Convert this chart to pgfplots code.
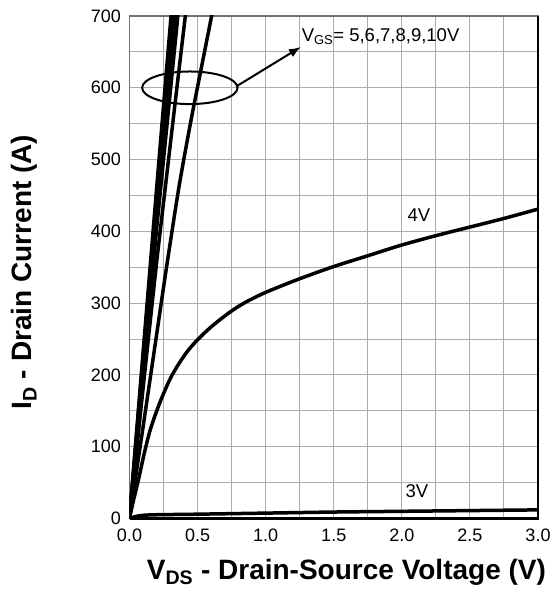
\documentclass[border=0pt]{standalone}
\usepackage{fontspec}
\setmainfont{Liberation Sans}
\usepackage{pgfplots}
\pgfplotsset{compat=1.18}
\usetikzlibrary{arrows.meta}
\begin{document}
\begin{tikzpicture}
\begin{axis}[
  scale only axis,
  width=408.5pt, height=502.5pt,
  xmin=0, xmax=3, ymin=0, ymax=700,
  xtick={0,0.5,1,1.5,2,2.5,3},
  xticklabels={0.0,0.5,1.0,1.5,2.0,2.5,3.0},
  ytick={0,100,200,300,400,500,600,700},
  minor x tick num=1, minor y tick num=1,
  grid=both,
  major grid style={draw=black!32, line width=1pt},
  minor grid style={draw=black!32, line width=1pt},
  major tick length=0pt, minor tick length=0pt,
  axis line style={draw=black!55, line width=1.3pt},
  /pgf/number format/assume math mode=true,
  xticklabel style={font=\fontsize{18}{20}\selectfont, inner sep=0pt, yshift=-10pt},
  yticklabel style={font=\fontsize{18}{20}\selectfont, inner sep=0pt, xshift=-8.5pt},
  xlabel={V\textsubscript{DS} - Drain-Source Voltage (V)},
  ylabel={I\textsubscript{D} - Drain Current (A)},
  xlabel style={at={(axis description cs:0.531,-0.1204)}, anchor=base, inner sep=0pt, font=\bfseries\fontsize{28}{30}\selectfont},
  ylabel style={at={(axis description cs:-0.2394,0.4905)}, anchor=base, inner sep=0pt, font=\bfseries\fontsize{28}{30}\selectfont},
  every axis plot/.append style={black, no marks, line width=3.5pt, line join=round, line cap=round},
]
% 3V
\addplot[smooth] coordinates {(0,0) (0.05,3) (0.15,5) (0.5,6) (1.0,7.5) (1.5,9) (2.0,10) (2.5,11) (3.0,12)};
% 4V
\addplot[smooth] coordinates {(0,0) (0.03,26) (0.061,50) (0.11,92) (0.15,122) (0.2,150) (0.25,174) (0.305,197) (0.367,217) (0.43,234) (0.5,249) (0.6,267) (0.734,287) (0.85,301) (1.0,315) (1.25,334) (1.5,351) (1.75,366) (2.0,381) (2.25,394) (2.5,406) (2.75,418) (3.0,431)};
% 5V
\addplot[smooth] coordinates {(0,0) (0.1,128) (0.172,221) (0.25,322) (0.3,385) (0.367,466) (0.45,553) (0.53,630) (0.603,700) (0.65,745)};
% 6V
\addplot[smooth] coordinates {(0,0) (0.1,182) (0.2,358) (0.269,471) (0.34,587) (0.41,700) (0.45,764)};
% 7V
\addplot[sharp plot] coordinates {(0,0) (0.1,205) (0.2,405) (0.355,700) (0.38,748)};
% 8V
\addplot[sharp plot] coordinates {(0,0) (0.1,215) (0.2,428) (0.335,700) (0.36,750)};
% 9V
\addplot[sharp plot] coordinates {(0,0) (0.1,225) (0.2,448) (0.32,700) (0.345,752)};
% 10V
\addplot[sharp plot] coordinates {(0,0) (0.1,232) (0.2,462) (0.305,700) (0.33,755)};

\node[font=\fontsize{18.5}{20}\selectfont, inner sep=0pt] at (axis cs:2.125,422) {4V};
\node[font=\fontsize{18.5}{20}\selectfont, inner sep=0pt] at (axis cs:2.11,38.7) {3V};
\node[font=\fontsize{18.5}{20}\selectfont, inner sep=0pt, anchor=base west] at (axis cs:1.264,664) {V\textsubscript{GS}= 5,6,7,8,9,10V};
\draw[black, line width=2pt] (axis cs:0.443,600) ellipse [x radius=47.7pt, y radius=16.3pt];
\draw[black, line width=2pt, -{Latex[length=12pt,width=9pt]}] (axis cs:0.794,603) -- (axis cs:1.259,657);
\coordinate (SW) at (rel axis cs:0,0);
\coordinate (NE) at (rel axis cs:1,1);
\coordinate (SE) at (rel axis cs:1,0);
\end{axis}
\draw[black, line width=2.2pt] (SW) -- (SE) -- (NE);
\path (SW) ++(-129.5pt,-73.5pt);
\path (NE) ++(15pt,16pt);
\end{tikzpicture}
\end{document}
